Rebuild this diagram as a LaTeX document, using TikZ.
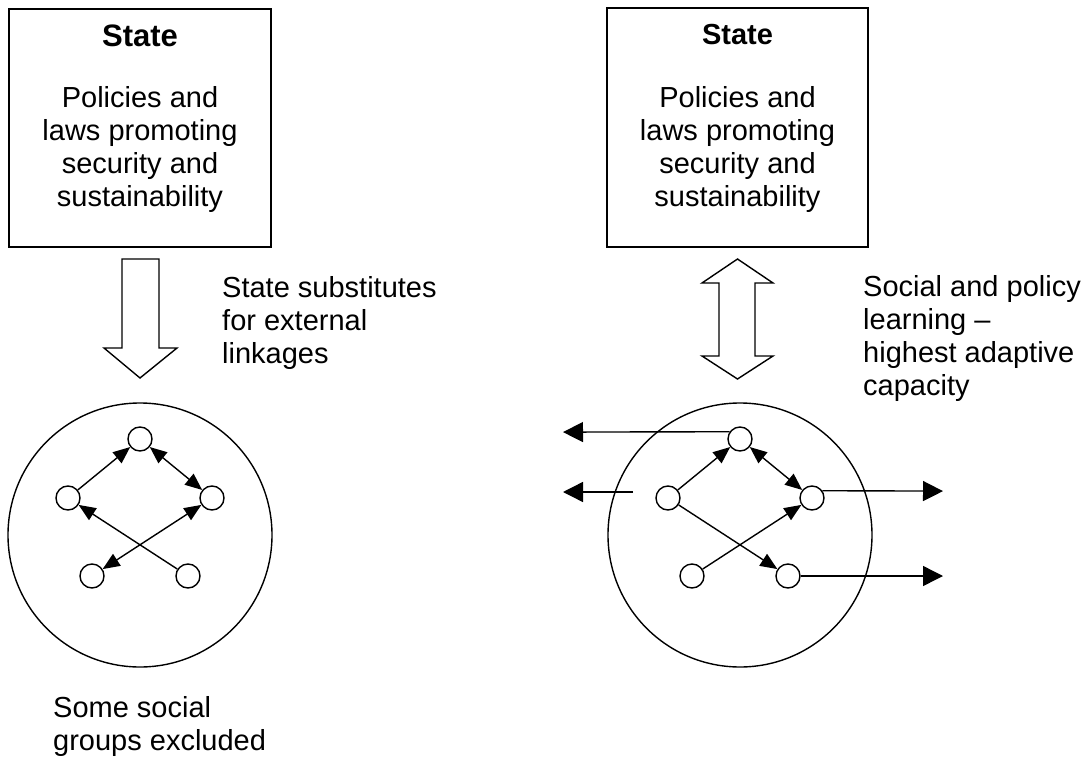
\documentclass[tikz,border=0pt]{standalone}
\usepackage{fontspec}
\setmainfont{Liberation Sans}
\usetikzlibrary{arrows.meta}
\newcommand\tkbody{\fontsize{29}{33}\selectfont}
\tikzset{
  lw/.style={line width=1.4pt},
  statebox/.style={draw, lw, rectangle, inner sep=0pt},
  bigcirc/.style={draw, lw, circle, minimum size=264pt, inner sep=0pt},
  agent/.style={draw, lw, circle, minimum size=24pt, inner sep=0pt, fill=white},
  txt/.style={inner sep=0pt, font=\tkbody},
  link/.style={lw, -{Triangle[length=17pt,width=14pt]}},
  blink/.style={lw, {Triangle[length=17pt,width=14pt]}-{Triangle[length=17pt,width=14pt]}},
  ext/.style={lw, -{Triangle[length=20pt,width=20pt]}},
  fatarrow/.style={draw, lw, fill=white, line join=miter},
}
\begin{document}
\begin{tikzpicture}[x=1pt,y=-1pt]
\useasboundingbox (0,0) rectangle (1092,757);

% ---------- left ----------
\node[statebox, minimum width=262pt, minimum height=238pt] (lbox) at (140,128) {};
\node[txt, anchor=base, font=\fontsize{31}{35}\selectfont\bfseries] (lstate) at (140,47) {State};
% anchor=base of a multi-line node = baseline of its last line
\node[txt, anchor=base, align=center] (lbody) at (140,206) {Policies and\\laws promoting\\security and\\sustainability};

\path[fatarrow] (122,259) -- (159,259) -- (159,348) -- (177,348) -- (140,378)
   -- (104,348) -- (122,348) -- cycle;
\node[txt, anchor=base west, align=left] (ltext) at (222,363) {State substitutes\\for external\\linkages};

\node[bigcirc] (lcirc) at (140,535) {};
\node[agent] (lt) at (140,439) {};
\node[agent] (ll) at (68,498) {};
\node[agent] (lr) at (212,498) {};
\node[agent] (lbl) at (92,576) {};
\node[agent] (lbr) at (188,576) {};
\draw[link] (ll) -- (lt);
\draw[blink] (lt) -- (lr);
\draw[link] (lbr) -- (ll);
\draw[blink] (lbl) -- (lr);

\node[txt, anchor=base west, align=left] (lfoot) at (53,750) {Some social\\groups excluded};

% ---------- right ----------
\node[statebox, minimum width=261pt, minimum height=239pt] (rbox) at (737.5,127.5) {};
\node[txt, anchor=base, font=\fontsize{29}{33}\selectfont\bfseries] (rstate) at (737.5,45) {State};
\node[txt, anchor=base, align=center] (rbody) at (737.5,206) {Policies and\\laws promoting\\security and\\sustainability};

\path[fatarrow] (737.5,259) -- (773,283) -- (755,283) -- (755,356) -- (773,356)
   -- (737.5,379) -- (702,356) -- (719,356) -- (719,283) -- (702,283) -- cycle;
\node[txt, anchor=base west, align=left] (rtext) at (863,395) {Social and policy\\learning --\\highest adaptive\\capacity};

\node[bigcirc] (rcirc) at (740,535) {};
\node[agent] (rt) at (740,439) {};
\node[agent] (rl) at (668,498) {};
\node[agent] (rr) at (812,498) {};
\node[agent] (rbl) at (692,576) {};
\node[agent] (rbr) at (788,576) {};
\draw[link] (rl) -- (rt);
\draw[blink] (rt) -- (rr);
\draw[link] (rl) -- (rbr);
\draw[link] (rbl) -- (rr);

\coordinate (e1) at (563,432.1);
\coordinate (e2s) at (633,492);
\coordinate (e2) at (563,492);
\coordinate (e3) at (943,491.1);
\coordinate (e4) at (943,576);
\draw[ext] (rt.145) -- (e1);
\draw[ext] (e2s) -- (e2);
\draw[ext] (rr.35) -- (e3);
\draw[ext] (rbr.east) -- (e4);
\end{tikzpicture}
\end{document}
